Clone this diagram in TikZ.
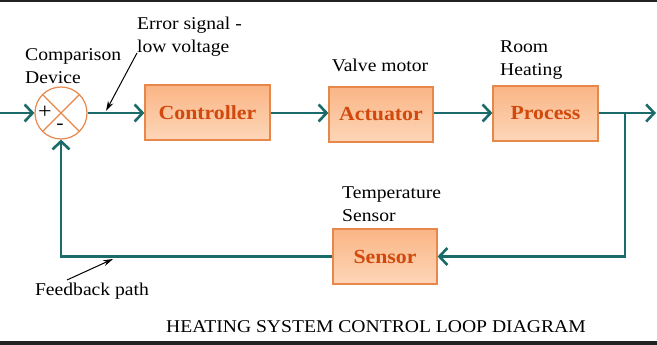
\documentclass[tikz,border=0pt]{standalone}
\usepackage{fontspec}
\setmainfont[FakeStretch=1.09]{Liberation Serif}
\usetikzlibrary{arrows.meta}
\definecolor{teal1}{HTML}{1B6B6B}
\definecolor{boxline}{HTML}{E8874A}
\definecolor{boxtop}{HTML}{FAB585}
\definecolor{boxbot}{HTML}{FDD6B8}
\definecolor{boxtext}{HTML}{D2490E}
\definecolor{band}{HTML}{222222}
\tikzset{
  blockbox/.style={draw=boxline, line width=1.2pt, top color=boxtop, bottom color=boxbot,
    minimum height=55pt, text=boxtext, font=\fontsize{20}{22}\selectfont\bfseries},
  flow/.style={draw=teal1, line width=2.8pt, -{Straight Barb[length=8pt,width=17pt,line width=2.6pt]}},
  lbl/.style={font=\fontsize{18}{23}\selectfont, align=left, inner sep=0pt},
  pointer/.style={draw=black, line width=1pt, -{Stealth[length=10pt,width=6pt]}},
  sumc/.style={circle, draw=boxline, line width=1.2pt, fill=white, minimum size=52pt, inner sep=0pt}
}
\begin{document}
\begin{tikzpicture}[x=1pt,y=1pt]
\useasboundingbox (0,0) rectangle (657,345);
\fill[white] (0,0) rectangle (657,345);
\fill[band] (0,343) rectangle (657,345);
\fill[band] (0,0) rectangle (657,3.5);

% blocks
\node[sumc] (sum) at (61,232) {};
\draw[boxline, line width=1.1pt] (sum.north east) -- (sum.south west);
\draw[boxline, line width=1.1pt] (sum.north west) -- (sum.south east);
\node[font=\fontsize{22}{22}\selectfont, inner sep=0pt] (plus) at (45,233) {+};
\node[font=\fontsize{20}{20}\selectfont, inner sep=0pt] (minus) at (60,218) {-};

\node[blockbox, minimum width=125pt] (ctrl) at (207.5,232.5) {Controller};
\node[blockbox, minimum width=104pt] (act) at (381,230.5) {Actuator};
\node[blockbox, minimum width=105pt] (proc) at (545.5,231.5) {Process};
\node[blockbox, minimum width=104pt] (sens) at (385,88.5) {Sensor};

% coordinates
\coordinate (inp) at (0,232);
\coordinate (outend) at (656,232);
\coordinate (branch) at (625,232);

% connectors
\draw[flow] (inp) -- (sum.west);
\draw[flow] (sum.east) -- (ctrl.west |- sum.east);
\draw[flow] (ctrl.east |- 0,232) -- (act.west |- 0,232);
\draw[flow] (act.east |- 0,232) -- (proc.west |- 0,232);
\draw[flow] (proc.east |- 0,232) -- (outend);
\draw[flow] (branch) |- (sens.east);
\draw[flow] (sens.west) -| (sum.south);

% labels
\node[lbl, anchor=west] (errlbl) at (137,308.5) {Error signal -\\low voltage};
\node[lbl, anchor=west] (cmplbl) at (25,279) {Comparison\\Device};
\node[lbl] (vmlbl) at (380,280) {Valve motor};
\node[lbl, anchor=west] (roomlbl) at (500,285) {Room\\Heating};
\node[lbl, anchor=west] (templbl) at (342,140.5) {Temperature\\Sensor};
\node[lbl] (fblbl) at (92,54) {Feedback path};
\node[lbl] (title) at (376,18) {HEATING SYSTEM CONTROL LOOP DIAGRAM};

\coordinate (errtail) at (137,292);
\coordinate (errtip) at (106,234);
\coordinate (fbtail) at (67,65);
\coordinate (fbtip) at (113,86);
\draw[pointer] (errtail) -- (errtip);
\draw[pointer] (fbtail) -- (fbtip);
\end{tikzpicture}
\end{document}
